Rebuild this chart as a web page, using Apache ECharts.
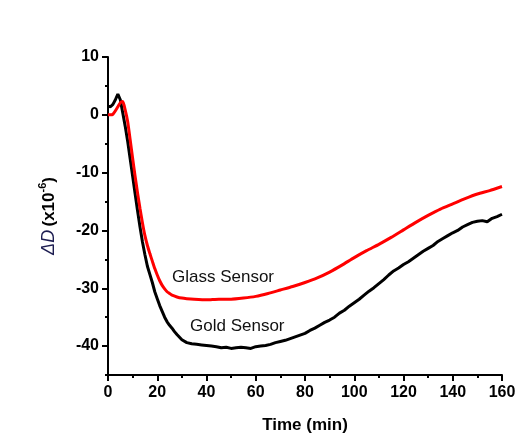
<!DOCTYPE html>
<html>
<head>
<meta charset="utf-8">
<script src="https://cdn.jsdelivr.net/npm/echarts@6/dist/echarts.min.js"></script>
<style>
html,body{margin:0;padding:0;background:#fff;}
#chart{width:517px;height:434px;}
</style>
</head>
<body>
<div id="chart"></div>
<script>
// ---- data ----
var goldTime = [0,1,2,3,4,5,6,7,8,9,10,11,12,13,14,15,16,17,18,19,20,21,22,23,24,25,26,27,28,30,32,34,36,38,40,42,44,46,48,50,52,54,56,58,60,62,64,66,68,70,72,74,76,78,80,82,84,86,88,90,92,94,96,98,100,102,104,106,108,110,112,114,116,118,120,122,124,126,128,130,132,134,136,138,140,142,144,146,148,150,152,154,156,158,160];
var goldValues = [1.5,1.4,1.8,2.6,3.6,2.6,0.3,-2.0,-4.6,-7.6,-10.6,-13.6,-16.6,-19.4,-22.0,-24.2,-26.2,-27.6,-29.0,-30.6,-31.8,-33.0,-34.0,-35.0,-35.8,-36.4,-36.9,-37.5,-38.0,-38.9,-39.4,-39.6,-39.7,-39.8,-39.9,-40.0,-40.1,-40.3,-40.2,-40.4,-40.3,-40.2,-40.3,-40.4,-40.1,-40.0,-39.9,-39.7,-39.4,-39.2,-39.0,-38.7,-38.4,-38.1,-37.8,-37.3,-36.9,-36.4,-35.9,-35.5,-35.0,-34.3,-33.8,-33.1,-32.5,-31.9,-31.2,-30.5,-29.9,-29.2,-28.5,-27.7,-27.0,-26.5,-25.9,-25.4,-24.8,-24.2,-23.6,-23.1,-22.6,-21.9,-21.4,-20.9,-20.4,-20.0,-19.4,-19.0,-18.6,-18.4,-18.3,-18.5,-17.9,-17.6,-17.2];
var glassTime = [0,1,2,3,4,5,6,7,8,9,10,11,12,13,14,15,16,17,18,19,20,21,22,23,24,25,26,28,30,32,35,40,45,50,55,60,65,70,75,80,85,90,95,100,105,110,115,120,125,130,135,140,145,150,155,160];
var glassValues = [0,0,0.1,0.7,1.4,2.1,2.3,0.8,-1.2,-4.3,-7.5,-10.6,-13.5,-16.2,-18.7,-20.9,-22.6,-24.0,-25.3,-26.6,-27.7,-28.7,-29.5,-30.1,-30.6,-30.9,-31.2,-31.5,-31.7,-31.8,-31.9,-32.0,-31.9,-31.9,-31.7,-31.4,-30.9,-30.3,-29.7,-29.0,-28.2,-27.2,-26.0,-24.7,-23.5,-22.4,-21.2,-19.9,-18.6,-17.4,-16.3,-15.4,-14.5,-13.7,-13.1,-12.4];
var xTicks = [0,20,40,60,80,100,120,140,160];
var yTicks = [-40,-30,-20,-10,0,10];
var seriesNames = ['Gold Sensor','Glass Sensor'];
var labelAnchors = [[52.5,-36.6],[46.7,-28.1]];

function zip(a,b){ return a.map(function(v,i){ return [v,b[i]]; }); }

var chart = echarts.init(document.getElementById('chart'), null, {renderer:'canvas'});
var FONT = 'Arial, "Liberation Sans", sans-serif';
var axisLabelStyle = {color:'#000', fontWeight:'bold', fontSize:16, fontFamily:FONT};

var option = {
  backgroundColor:'#ffffff',
  animation:false,
  grid:{left:108, right:15, top:57, bottom:59, containLabel:false, outerBoundsMode:'none'},
  xAxis:{
    type:'value', min:0, max:160, interval:20,
    axisLine:{show:true, onZero:false, lineStyle:{color:'#000', width:2}},
    axisTick:{show:true, inside:false, length:6, lineStyle:{color:'#000', width:2}},
    minorTick:{show:true, splitNumber:2, length:3, lineStyle:{color:'#000', width:2}},
    splitLine:{show:false},
    axisLabel:Object.assign({margin:10, formatter:function(v){return xTicks.indexOf(v)>=0?String(v):'';}}, axisLabelStyle),
    name:'Time (min)', nameLocation:'middle', nameGap:42,
    nameTextStyle:{color:'#000', fontWeight:'bold', fontSize:17, fontFamily:FONT}
  },
  yAxis:[{
    type:'value', min:-45, max:10, interval:5, position:'left',
    axisLine:{show:true, onZero:false, lineStyle:{color:'#000', width:2}},
    axisTick:{show:true, inside:false, length:3, lineStyle:{color:'#000', width:2}},
    splitLine:{show:false},
    axisLabel:Object.assign({margin:9, formatter:function(v){return yTicks.indexOf(v)>=0?String(v):'';}}, axisLabelStyle),
    name:'{d|\u0394D} {n|(x10}{s|-6}{n|)}', nameLocation:'middle', nameGap:47, nameRotate:90,
    nameTextStyle:{
      color:'#000', fontFamily:FONT,
      rich:{
        d:{fontStyle:'italic', fontWeight:'normal', fontSize:18, color:'#1c1c50', fontFamily:FONT, lineHeight:24},
        n:{fontWeight:'bold', fontSize:17, color:'#000', fontFamily:FONT, lineHeight:24},
        s:{fontWeight:'bold', fontSize:11, color:'#000', fontFamily:FONT, verticalAlign:'top', lineHeight:24, padding:[0,0,10,0]}
      }
    }
  },{
    type:'value', min:-45, max:10, position:'left', offset:0,
    axisLine:{show:false},
    axisTick:{show:true, inside:false, length:6, customValues:yTicks, lineStyle:{color:'#000', width:2}},
    axisLabel:{show:false, customValues:yTicks},
    splitLine:{show:false}
  }],
  series:[{
    name:seriesNames[0], type:'line', data:zip(goldTime, goldValues), showSymbol:false, symbol:'none',
    lineStyle:{color:'#000000', width:3}, itemStyle:{color:'#000'}, z:2
  },{
    name:seriesNames[1], type:'line', data:zip(glassTime, glassValues), showSymbol:false, symbol:'none', smooth:0.2,
    lineStyle:{color:'#ff0000', width:3}, itemStyle:{color:'#f00'}, z:3
  }]
};
chart.setOption(option);

var g = [];
for (var i=0;i<seriesNames.length;i++){
  var p = chart.convertToPixel({xAxisIndex:0, yAxisIndex:0}, labelAnchors[i]);
  g.push({type:'text', x:p[0], y:p[1], z:10,
    style:{text:seriesNames[i], fill:'#111', font:'17px '+FONT, textAlign:'center', textVerticalAlign:'middle'}});
}
chart.setOption({graphic:g});
</script>
</body>
</html>
